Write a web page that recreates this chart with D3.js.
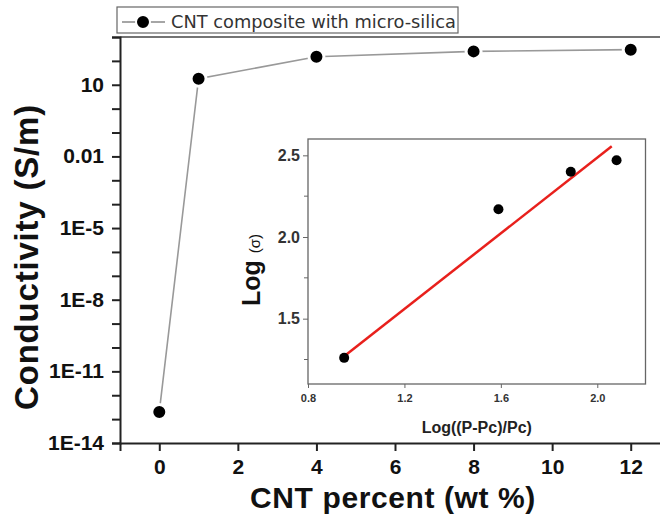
<!DOCTYPE html>
<html>
<head>
<meta charset="utf-8">
<script src="https://cdn.jsdelivr.net/npm/d3@7"></script>
<style>
  body { margin: 0; background: #fff; }
  svg { display: block; }
</style>
</head>
<body>
<div id="chart"></div>
<script>
// main chart data: CNT wt% vs conductivity
const cntPercent = [0, 1, 4, 8, 12];
const conductivity = [2e-13, 18, 150, 250, 295];
const xTicks = [0, 2, 4, 6, 8, 10, 12];
const yTicks = [10, 0.01, 1e-5, 1e-8, 1e-11, 1e-14];
const yTickLabels = ["10", "0.01", "1E-5", "1E-8", "1E-11", "1E-14"];

// inset data: log plot with linear fit
const insetX = [0.95, 1.59, 1.89, 2.08];
const insetY = [1.26, 2.17, 2.40, 2.47];
const fitX = [0.95, 2.06];
const fitY = [1.27, 2.555];
const insetXTicks = [0.8, 1.2, 1.6, 2.0];
const insetYTicks = [1.5, 2.0, 2.5];
const insetYMinor = [1.25, 1.75, 2.25];

const width = 660, height = 520;
const margin = { top: 37, right: -10, bottom: 77, left: 120 };

const svg = d3.select("#chart").append("svg")
  .attr("width", width)
  .attr("height", height);

// scales
const x = d3.scaleLinear()
  .domain([-1, 13])
  .range([margin.left, width - margin.right]);

const y = d3.scaleLog()
  .domain([1e-14, 1e3])
  .range([height - margin.bottom, margin.top]);

const bold = "'Liberation Sans', Arial, sans-serif";

// minor decade ticks
const decades = d3.range(-14, 4).map(e => Math.pow(10, e));

// frame (top line)
svg.append("line")
  .attr("x1", x(-1)).attr("x2", width)
  .attr("y1", y(1e3)).attr("y2", y(1e3))
  .attr("stroke", "#444").attr("stroke-width", 1.5);

// Y axis
const yAxis = svg.append("g")
  .attr("transform", `translate(${margin.left},0)`)
  .call(d3.axisLeft(y).tickValues(decades).tickSize(8).tickFormat(""));
yAxis.select(".domain").attr("stroke", "#222").attr("stroke-width", 2);
yAxis.selectAll(".tick line").attr("stroke", "#222").attr("stroke-width", 2);

svg.selectAll(".ylab")
  .data(yTicks)
  .join("text")
  .attr("x", margin.left - 16)
  .attr("y", d => y(d) + 7)
  .attr("text-anchor", "end")
  .style("font-family", bold)
  .style("font-weight", "bold")
  .style("font-size", "21px")
  .attr("fill", "#111")
  .text((d, i) => yTickLabels[i]);

// X axis
const xAxis = svg.append("g")
  .attr("transform", `translate(0,${height - margin.bottom})`)
  .call(d3.axisBottom(x).tickValues(xTicks).tickSize(8).tickPadding(8).tickFormat(d3.format("d")));
xAxis.select(".domain").attr("stroke", "#222").attr("stroke-width", 2);
xAxis.selectAll(".tick line").attr("stroke", "#222").attr("stroke-width", 2);
xAxis.selectAll(".tick text")
  .style("font-family", bold)
  .style("font-weight", "bold")
  .style("font-size", "21px")
  .attr("fill", "#111");

// axis titles
svg.append("text")
  .attr("x", 393)
  .attr("y", 508)
  .attr("text-anchor", "middle")
  .style("font-family", bold)
  .style("font-weight", "bold")
  .style("font-size", "30px")
  .style("letter-spacing", "0.6px")
  .attr("fill", "#111")
  .text("CNT percent (wt %)");

svg.append("text")
  .attr("transform", "rotate(-90)")
  .attr("x", -257)
  .attr("y", 38)
  .attr("text-anchor", "middle")
  .style("font-family", bold)
  .style("font-weight", "bold")
  .style("font-size", "33px")
  .style("letter-spacing", "0.8px")
  .attr("fill", "#111")
  .text("Conductivity (S/m)");

// data line and markers
const line = d3.line()
  .x((d, i) => x(cntPercent[i]))
  .y(d => y(d));

svg.append("path")
  .datum(conductivity)
  .attr("d", line)
  .attr("fill", "none")
  .attr("stroke", "#999")
  .attr("stroke-width", 1.6);

svg.selectAll(".pt")
  .data(conductivity)
  .join("circle")
  .attr("cx", (d, i) => x(cntPercent[i]))
  .attr("cy", d => y(d))
  .attr("r", 7.5)
  .attr("fill", "#000")
  .attr("stroke", "#fff")
  .attr("stroke-width", 3);

// legend
const legend = svg.append("g");
legend.append("rect")
  .attr("x", 117).attr("y", 7)
  .attr("width", 341).attr("height", 26)
  .attr("fill", "#fff")
  .attr("stroke", "#666")
  .attr("stroke-width", 1.2);
legend.append("line")
  .attr("x1", 122).attr("x2", 165)
  .attr("y1", 22).attr("y2", 22)
  .attr("stroke", "#888").attr("stroke-width", 1.6);
legend.append("circle")
  .attr("cx", 143).attr("cy", 22).attr("r", 7)
  .attr("fill", "#000").attr("stroke", "#fff").attr("stroke-width", 2);
legend.append("text")
  .attr("x", 171).attr("y", 28)
  .style("font-family", "'DejaVu Sans', sans-serif")
  .style("font-size", "17.8px")
  .attr("fill", "#333")
  .text("CNT composite with micro-silica");

// ---- inset ----
const ix = d3.scaleLinear().domain([0.8, 2.2]).range([308, 645.5]);
const iy = d3.scaleLinear().domain([1.1, 2.6]).range([384, 139]);

const inset = svg.append("g");
inset.append("rect")
  .attr("x", ix(0.8)).attr("y", iy(2.6))
  .attr("width", ix(2.2) - ix(0.8))
  .attr("height", iy(1.1) - iy(2.6))
  .attr("fill", "#fff")
  .attr("stroke", "#666")
  .attr("stroke-width", 1.3);

const ixAxis = inset.append("g")
  .attr("transform", `translate(0,${iy(1.1)})`)
  .call(d3.axisBottom(ix).tickValues(insetXTicks).tickSize(4).tickPadding(6).tickFormat(d3.format(".1f")));
ixAxis.select(".domain").remove();
ixAxis.selectAll(".tick line").attr("stroke", "#666");
ixAxis.selectAll(".tick text")
  .style("font-family", bold)
  .style("font-weight", "bold")
  .style("font-size", "11px")
  .attr("fill", "#333");

const iyAxis = inset.append("g")
  .attr("transform", `translate(${ix(0.8)},0)`)
  .call(d3.axisLeft(iy).tickValues(insetYTicks).tickSize(5).tickPadding(3).tickFormat(d3.format(".1f")));
iyAxis.select(".domain").remove();
iyAxis.selectAll(".tick line").attr("stroke", "#666");
iyAxis.selectAll(".tick text")
  .style("font-family", bold)
  .style("font-weight", "bold")
  .style("font-size", "16px")
  .attr("fill", "#333");

inset.selectAll(".minor")
  .data(insetYMinor)
  .join("line")
  .attr("x1", ix(0.8) - 4).attr("x2", ix(0.8))
  .attr("y1", d => iy(d)).attr("y2", d => iy(d))
  .attr("stroke", "#666");

inset.append("text")
  .attr("x", ix(1.5))
  .attr("y", 433)
  .attr("text-anchor", "middle")
  .style("font-family", bold)
  .style("font-weight", "bold")
  .style("font-size", "16px")
  .attr("fill", "#222")
  .text("Log((P-Pc)/Pc)");

const ylab = inset.append("text")
  .attr("transform", "rotate(-90)")
  .attr("x", -270)
  .attr("y", 260)
  .attr("text-anchor", "middle")
  .style("font-family", bold)
  .attr("fill", "#111");
ylab.append("tspan").style("font-weight", "bold").style("font-size", "25px").text("Log ");
ylab.append("tspan").style("font-size", "15px").text("(σ)");

// fit line
inset.append("line")
  .attr("x1", ix(fitX[0])).attr("y1", iy(fitY[0]))
  .attr("x2", ix(fitX[1])).attr("y2", iy(fitY[1]))
  .attr("stroke", "#e8201c")
  .attr("stroke-width", 2.5);

inset.selectAll(".ipt")
  .data(insetX)
  .join("circle")
  .attr("cx", d => ix(d))
  .attr("cy", (d, i) => iy(insetY[i]))
  .attr("r", 5)
  .attr("fill", "#000");
</script>
</body>
</html>
